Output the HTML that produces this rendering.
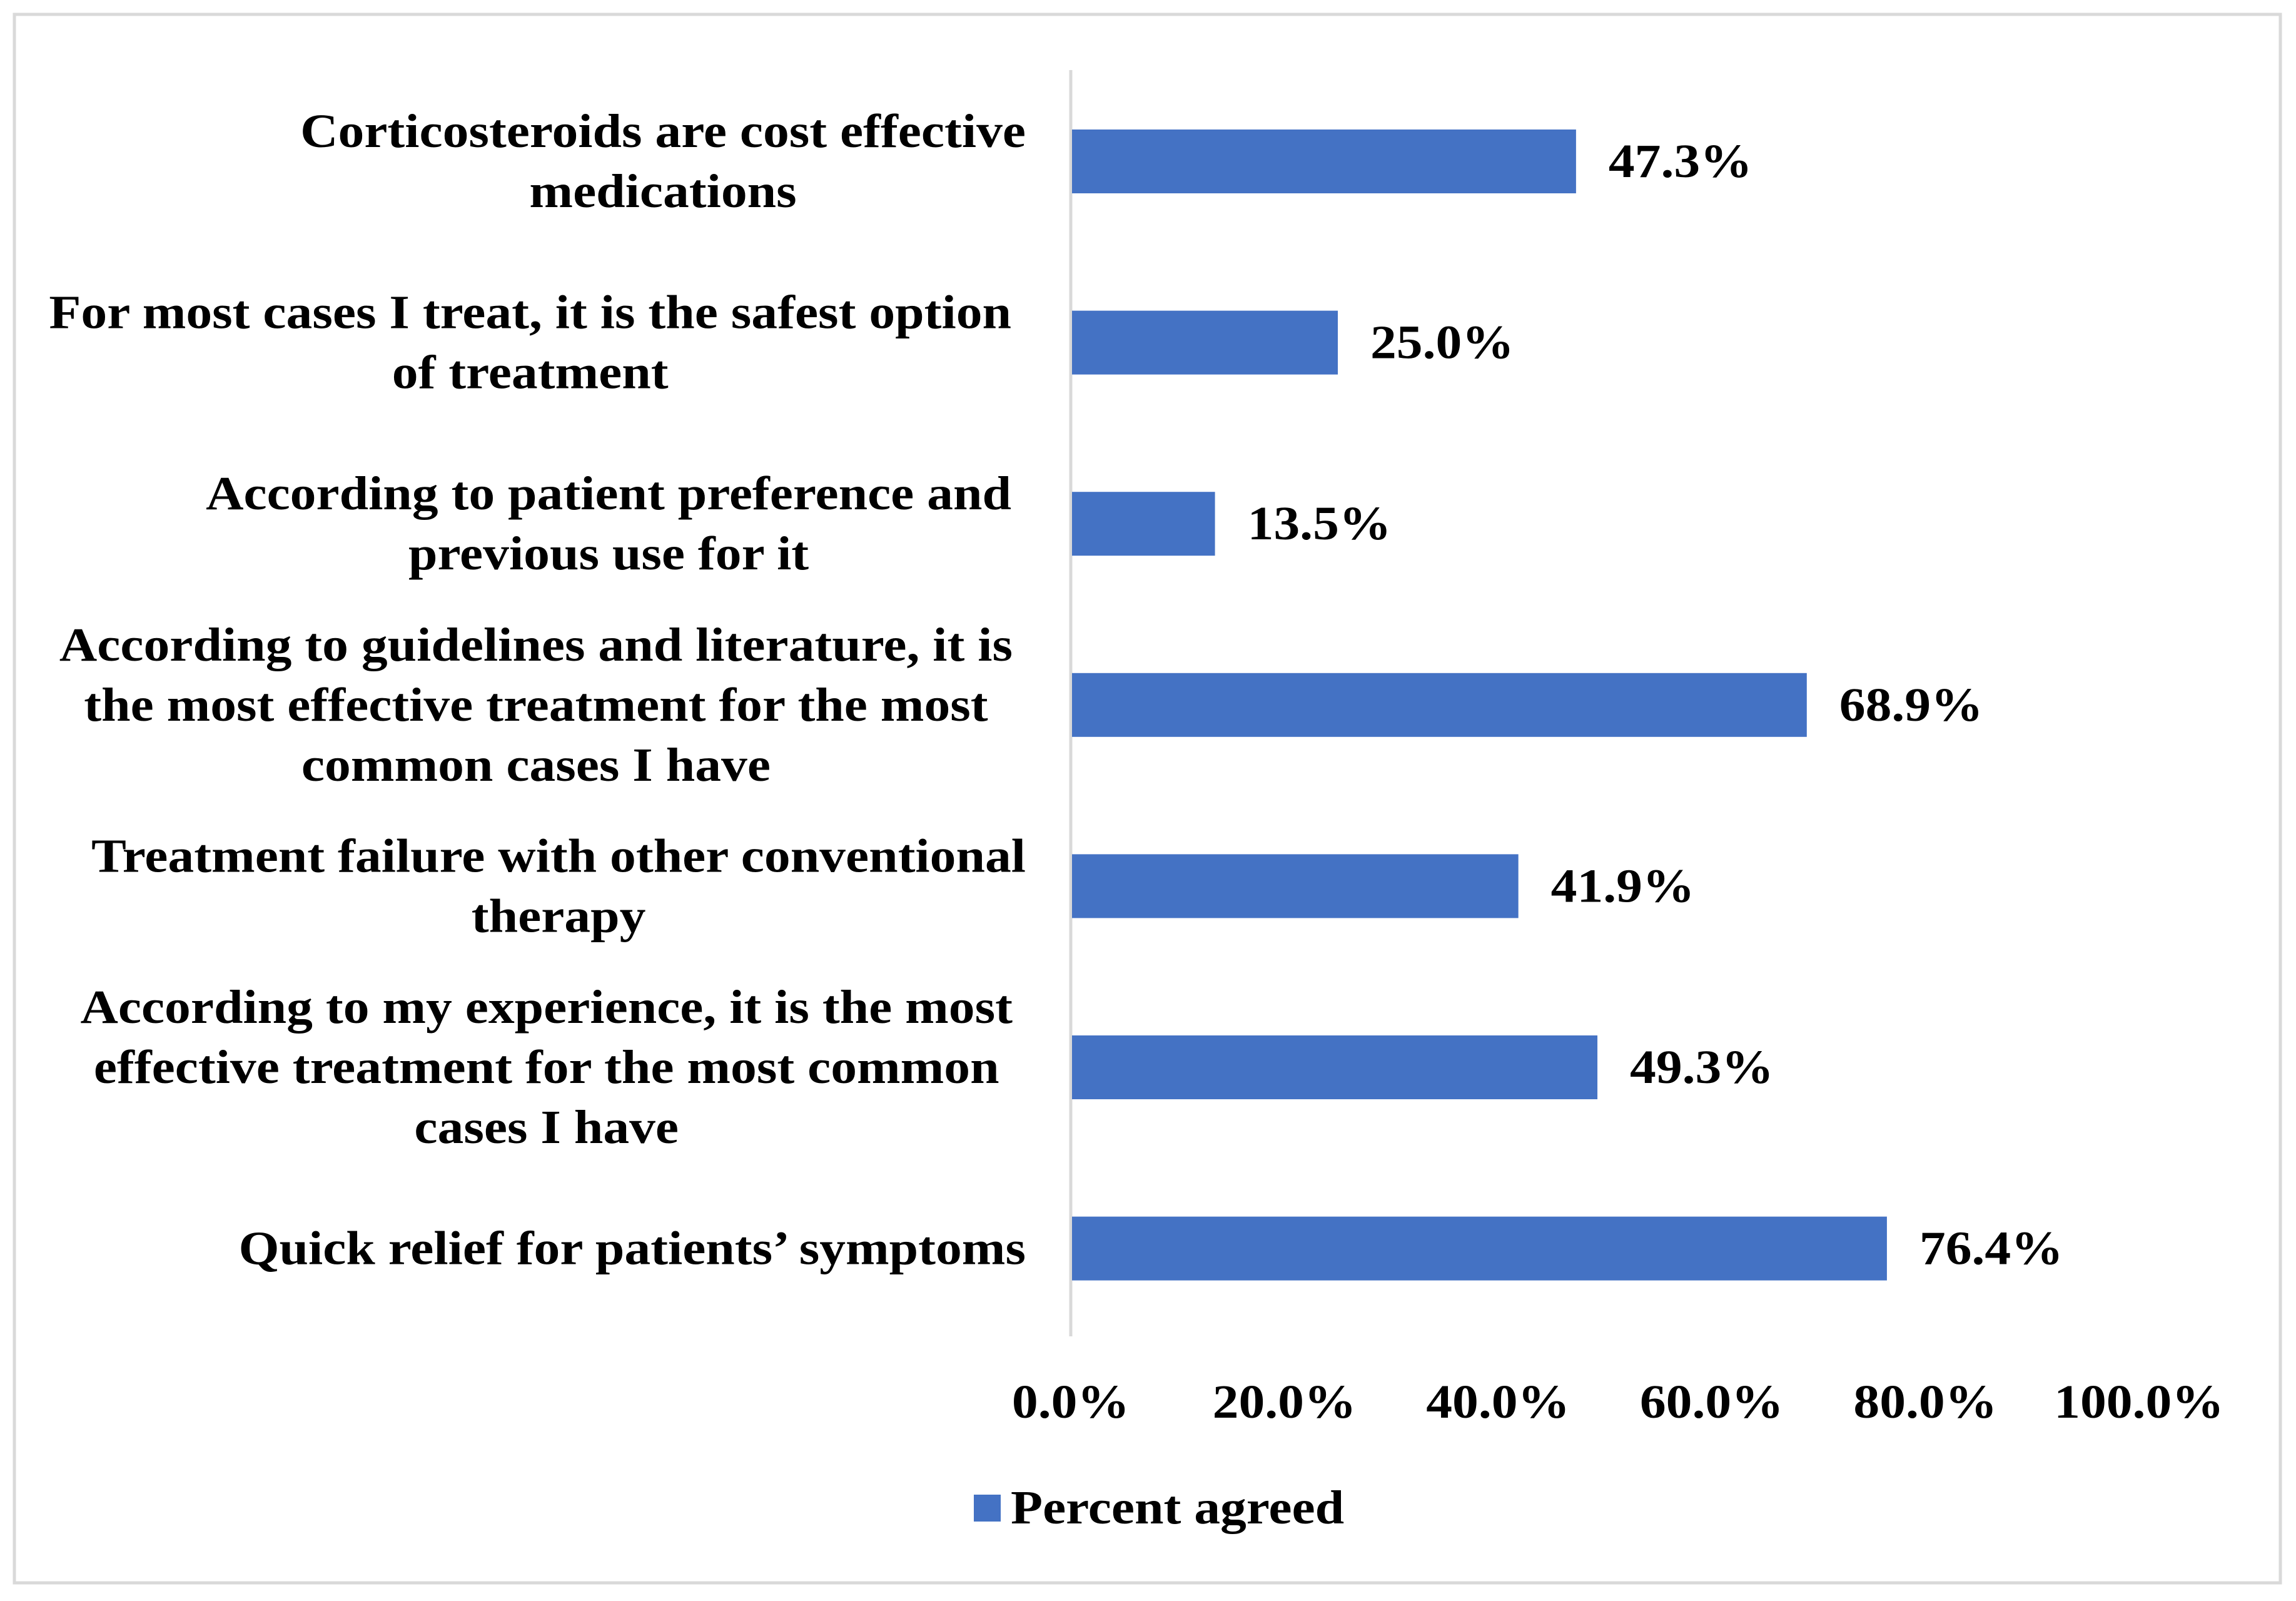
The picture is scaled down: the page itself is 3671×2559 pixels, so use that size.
<!DOCTYPE html>
<html><head><meta charset="utf-8"><style>
html,body{margin:0;padding:0;background:#fff;}
body{width:3671px;height:2554px;overflow:hidden;position:relative;font-family:"Liberation Serif",serif;font-weight:bold;}
svg text{font-family:"Liberation Serif",serif;font-weight:bold;}
</style></head><body>
<svg id="chart" width="3671" height="2554" xmlns="http://www.w3.org/2000/svg">
<rect x="23" y="23" width="3623" height="2507" fill="#fff" stroke="#d9d9d9" stroke-width="5"/>
<g id="bars"></g>
</svg>
<script>
const categories = [
 ["Corticosteroids are cost effective","medications"],
 ["For most cases I treat, it is the safest option","of treatment"],
 ["According to patient preference and","previous use for it"],
 ["According to guidelines and literature, it is","the most effective treatment for the most","common cases I have"],
 ["Treatment failure with other conventional","therapy"],
 ["According to my experience, it is the most","effective treatment for the most common","cases I have"],
 ["Quick relief for patients\u2019 symptoms"]
];
const values = [47.3, 25.0, 13.5, 68.9, 41.9, 49.3, 76.4];
const ticks = [0, 20, 40, 60, 80, 100];
const labelRight = [1640,1617,1617,1619,1640,1619,1640];

const NS = "http://www.w3.org/2000/svg";
const g = document.getElementById('bars');
const x0 = 1712, xw = 1708;
const xs = v => x0 + v / 100 * xw;
const yc = i => 258 + i * 289.6;
const barH = 102, fs = 76, lh = 96, stretch = 1.10;

function mk(tag, attrs){const e=document.createElementNS(NS,tag);for(const k in attrs)e.setAttribute(k,attrs[k]);return e;}
function widen(el){const L=el.getComputedTextLength();el.setAttribute('textLength',L*stretch);el.setAttribute('lengthAdjust','spacingAndGlyphs');return L*stretch;}

const axis = mk('line',{x1:x0,x2:x0,y1:112,y2:2136,stroke:'#d9d9d9','stroke-width':5});


g.appendChild(axis);

categories.forEach((lines,i)=>{
  const r = mk('rect',{x:x0+2,y:yc(i)-barH/2,width:xs(values[i])-x0-2,height:barH,fill:'#4472c4'});
  
  
  g.appendChild(r);
  const v = mk('text',{x:xs(values[i])+52,y:yc(i),'font-size':fs,'dominant-baseline':'central',fill:'#000'});
  v.textContent = values[i].toFixed(1)+'%';
  
  
  g.appendChild(v);
  widen(v);
  const n = lines.length;
  const els=[];
  lines.forEach((ln,j)=>{
    const t = mk('text',{'font-size':fs,fill:'#000','text-anchor':'middle','dominant-baseline':'central'});
    t.textContent = ln;
    
    
    g.appendChild(t); els.push(t);
  });
  let maxW=0; els.forEach(t=>{maxW=Math.max(maxW,widen(t));});
  const cx = labelRight[i] - maxW/2;
  els.forEach((t,j)=>{
    t.setAttribute('x',cx);
    t.setAttribute('y',yc(i)+(j-(n-1)/2)*lh);
  });
});

ticks.forEach(tv=>{
  const t = mk('text',{x:xs(tv),y:2241,'font-size':fs,'text-anchor':'middle','dominant-baseline':'central',fill:'#000'});
  t.textContent = tv.toFixed(1)+'%';
  
  
  g.appendChild(t);
  widen(t);
});

const lg = mk('rect',{x:1557,y:2389,width:43,height:43,fill:'#4472c4'});


g.appendChild(lg);
const lt = mk('text',{x:1616,y:2410,'font-size':fs,'dominant-baseline':'central',fill:'#000'});
lt.textContent='Percent agreed';


g.appendChild(lt);
widen(lt);
</script>
</body></html>
